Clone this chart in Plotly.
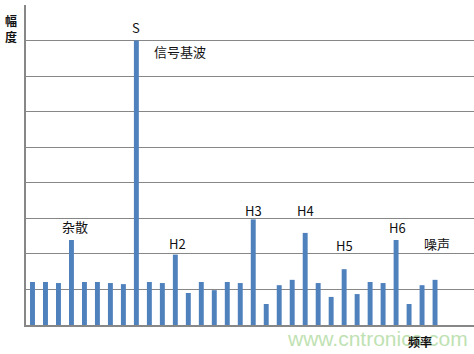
import plotly.graph_objects as go

# Spectrum amplitudes for each frequency bin
bins = list(range(32))
amplitude = [1.21, 1.21, 1.18, 2.39, 1.21, 1.21, 1.18, 1.15, 8.0, 1.21, 1.18, 1.98,
             0.90, 1.21, 0.98, 1.21, 1.18, 2.97, 0.59, 1.12, 1.27, 2.59, 1.18, 0.79,
             1.57, 0.87, 1.21, 1.18, 2.39, 0.59, 1.12, 1.27]

# Marker labels and the bins they refer to
label_text = ["S", "信号基波", "杂散", "H2", "H3", "H4", "H5", "H6", "噪声"]
label_bin = [8, 8, 3, 11, 17, 21, 24, 28, 31]

BAR_COLOR = "#4f81bd"
GRID_COLOR = "#878787"
CJK = "Noto Sans CJK SC, Liberation Sans, sans-serif"

W, H = 474, 354
L, R, T, B = 26, 0, 5, 29
pw, ph = W - L - R, H - T - B


def px_to_paper(px, py):
    """Pixel position (from top-left) to paper fractions of the plot area."""
    return (px - L) / pw, (H - py - B) / ph


fig = go.Figure(go.Bar(x=bins, y=amplitude, width=0.38,
                       marker=dict(color=BAR_COLOR, line=dict(width=0))))

# label placement offsets (dx in bins, dy in amplitude units above bar top)
offsets = {
    "S": (0.0, 0.38),
    "信号基波": (3.36, -0.32),
    "杂散": (0.24, 0.39),
    "H2": (0.13, 0.31),
    "H3": (0.0, 0.26),
    "H4": (0.0, 0.62),
    "H5": (0.0, 0.66),
    "H6": (0.08, 0.36),
    "噪声": (0.17, 1.03),
}

for txt, b in zip(label_text, label_bin):
    dx, dy = offsets[txt]
    fig.add_annotation(
        x=b + dx, y=amplitude[b] + dy, xref="x", yref="y", text=txt,
        showarrow=False, xanchor="center", yanchor="middle",
        font=dict(family=CJK, size=13, color="#111111"))

# site watermark
wx, wy = px_to_paper(377, 338)
fig.add_annotation(
    x=wx, y=wy, xref="paper", yref="paper", text="www.cntronics.com",
    showarrow=False, xanchor="center", yanchor="middle",
    font=dict(family="Liberation Sans, Arial, sans-serif", size=21, color="#bfe2b3"))

# axis titles
ax, ay = px_to_paper(11, 28)
fig.add_annotation(x=ax, y=ay, xref="paper", yref="paper", text="<b>幅<br>度</b>",
                   showarrow=False, xanchor="center", yanchor="middle",
                   font=dict(family=CJK, size=12, color="#111111"))
fx, fy = px_to_paper(419.5, 341.5)
fig.add_annotation(x=fx, y=fy, xref="paper", yref="paper", text="<b>频率</b>",
                   showarrow=False, xanchor="center", yanchor="middle",
                   font=dict(family=CJK, size=12, color="#111111"))

fig.update_layout(
    width=W, height=H,
    margin=dict(l=L, r=R, t=T, b=B, pad=0),
    paper_bgcolor="white", plot_bgcolor="white",
    showlegend=False,
    xaxis=dict(range=[-0.5, 34.0], showticklabels=False, ticks="", showgrid=False,
               zeroline=False, showline=True, linecolor=GRID_COLOR, linewidth=1.5),
    yaxis=dict(range=[0, 9], dtick=1, showticklabels=False, ticks="", showgrid=True,
               gridcolor=GRID_COLOR, gridwidth=1.2, zeroline=False,
               showline=True, linecolor=GRID_COLOR, linewidth=1.5),
)

fig.write_html("out.html", config={"displayModeBar": False})
